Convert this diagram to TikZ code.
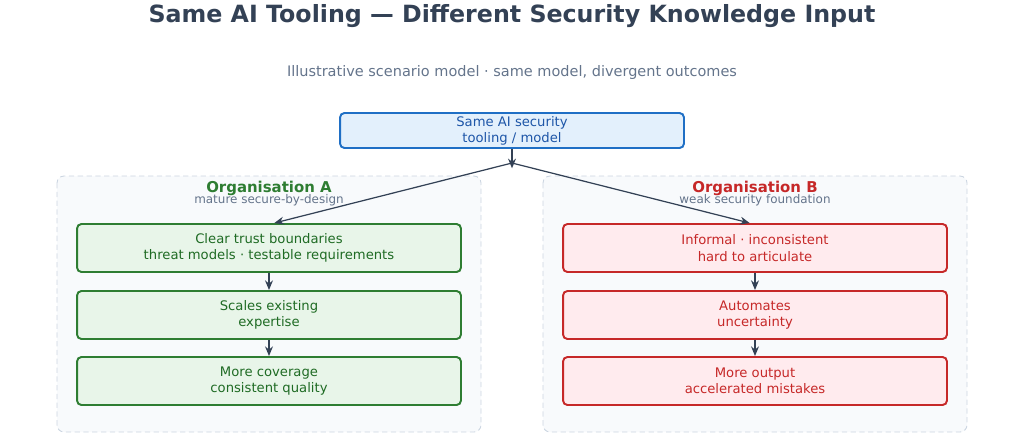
\documentclass[tikz,border=0pt]{standalone}
\usepackage{fontspec}
\setmainfont{DejaVu Sans}
\usepackage{xcolor}
\usepackage{tikz}
\usetikzlibrary{arrows.meta, positioning}

\definecolor{slate}{HTML}{334155}
\definecolor{muted}{HTML}{64748B}
\definecolor{panelfill}{HTML}{F8FAFC}
\definecolor{paneldraw}{HTML}{CBD5E1}
\definecolor{toolfill}{HTML}{E3F0FC}
\definecolor{tooldraw}{HTML}{1F6FC5}
\definecolor{tooltext}{HTML}{1E56A8}
\definecolor{goodfill}{HTML}{E8F5E9}
\definecolor{gooddraw}{HTML}{2E7D32}
\definecolor{goodtext}{HTML}{1F6B24}
\definecolor{badfill}{HTML}{FFEBEE}
\definecolor{baddraw}{HTML}{C62828}

\begin{document}
\begin{tikzpicture}[
        x=0.02cm, y=-0.02cm,
        panel/.style={draw=paneldraw, dash pattern=on 3pt off 2pt, fill=panelfill, rounded corners=4pt, line width=0.5pt},
        card/.style={rectangle, rounded corners=2.5pt, line width=1.1pt, minimum width=7.68cm, minimum height=0.96cm, align=center, font=\fontsize{7.5}{9.2}\selectfont},
        goodcard/.style={card, draw=gooddraw, fill=goodfill, text=goodtext},
        badcard/.style={card, draw=baddraw, fill=badfill, text=baddraw},
        heading/.style={font=\fontsize{8.5}{10}\selectfont\bfseries},
        note/.style={font=\fontsize{6.8}{8}\selectfont, text=muted},
        flow/.style={-{Stealth[length=5.5pt,width=4.5pt]}, draw=slate, line width=0.7pt}
    ]
        \useasboundingbox (0,0) rectangle (1024,447);

        % Title and subtitle
        \node[font=\fontsize{13.5}{15}\selectfont\bfseries, text=slate] (title) at (512,16) {Same AI Tooling — Different Security Knowledge Input};
        \node[font=\fontsize{8.25}{10}\selectfont, text=muted] (subtitle) at (512,72) {Illustrative scenario model · same model, divergent outcomes};

        % Shared tooling
        \node[card, draw=tooldraw, fill=toolfill, text=tooltext, minimum width=6.88cm, minimum height=0.7cm, inner ysep=1pt] (tool) at (512,130.5) {Same AI security\\tooling / model};
        \coordinate (split) at (512,163);

        % Panels
        \draw[panel] (57,176) rectangle (481,432);
        \draw[panel] (543,176) rectangle (967,432);

        % Organisation A
        \node[heading, text=gooddraw] (orgA) at (269,188) {Organisation A};
        \node[note] (orgAnote) at (269,200) {mature secure-by-design};
        \node[goodcard] (a1) at (269,248) {Clear trust boundaries\\threat models · testable requirements};
        \node[goodcard] (a2) at (269,315) {Scales existing\\expertise};
        \node[goodcard] (a3) at (269,381) {More coverage\\consistent quality};

        % Organisation B
        \node[heading, text=baddraw] (orgB) at (755,188) {Organisation B};
        \node[note] (orgBnote) at (755,200) {weak security foundation};
        \node[badcard] (b1) at (755,248) {Informal · inconsistent\\hard to articulate};
        \node[badcard] (b2) at (755,315) {Automates\\uncertainty};
        \node[badcard] (b3) at (755,381) {More output\\accelerated mistakes};

        % Connectors
        \draw[flow] (tool) -- ([yshift=-3pt]split);
        \draw[flow] (split) -- ([xshift=3pt]a1.north);
        \draw[flow] (split) -- ([xshift=-3pt]b1.north);
        \draw[flow] (a1) -- (a2);
        \draw[flow] (a2) -- (a3);
        \draw[flow] (b1) -- (b2);
        \draw[flow] (b2) -- (b3);
    \end{tikzpicture}
\end{document}
